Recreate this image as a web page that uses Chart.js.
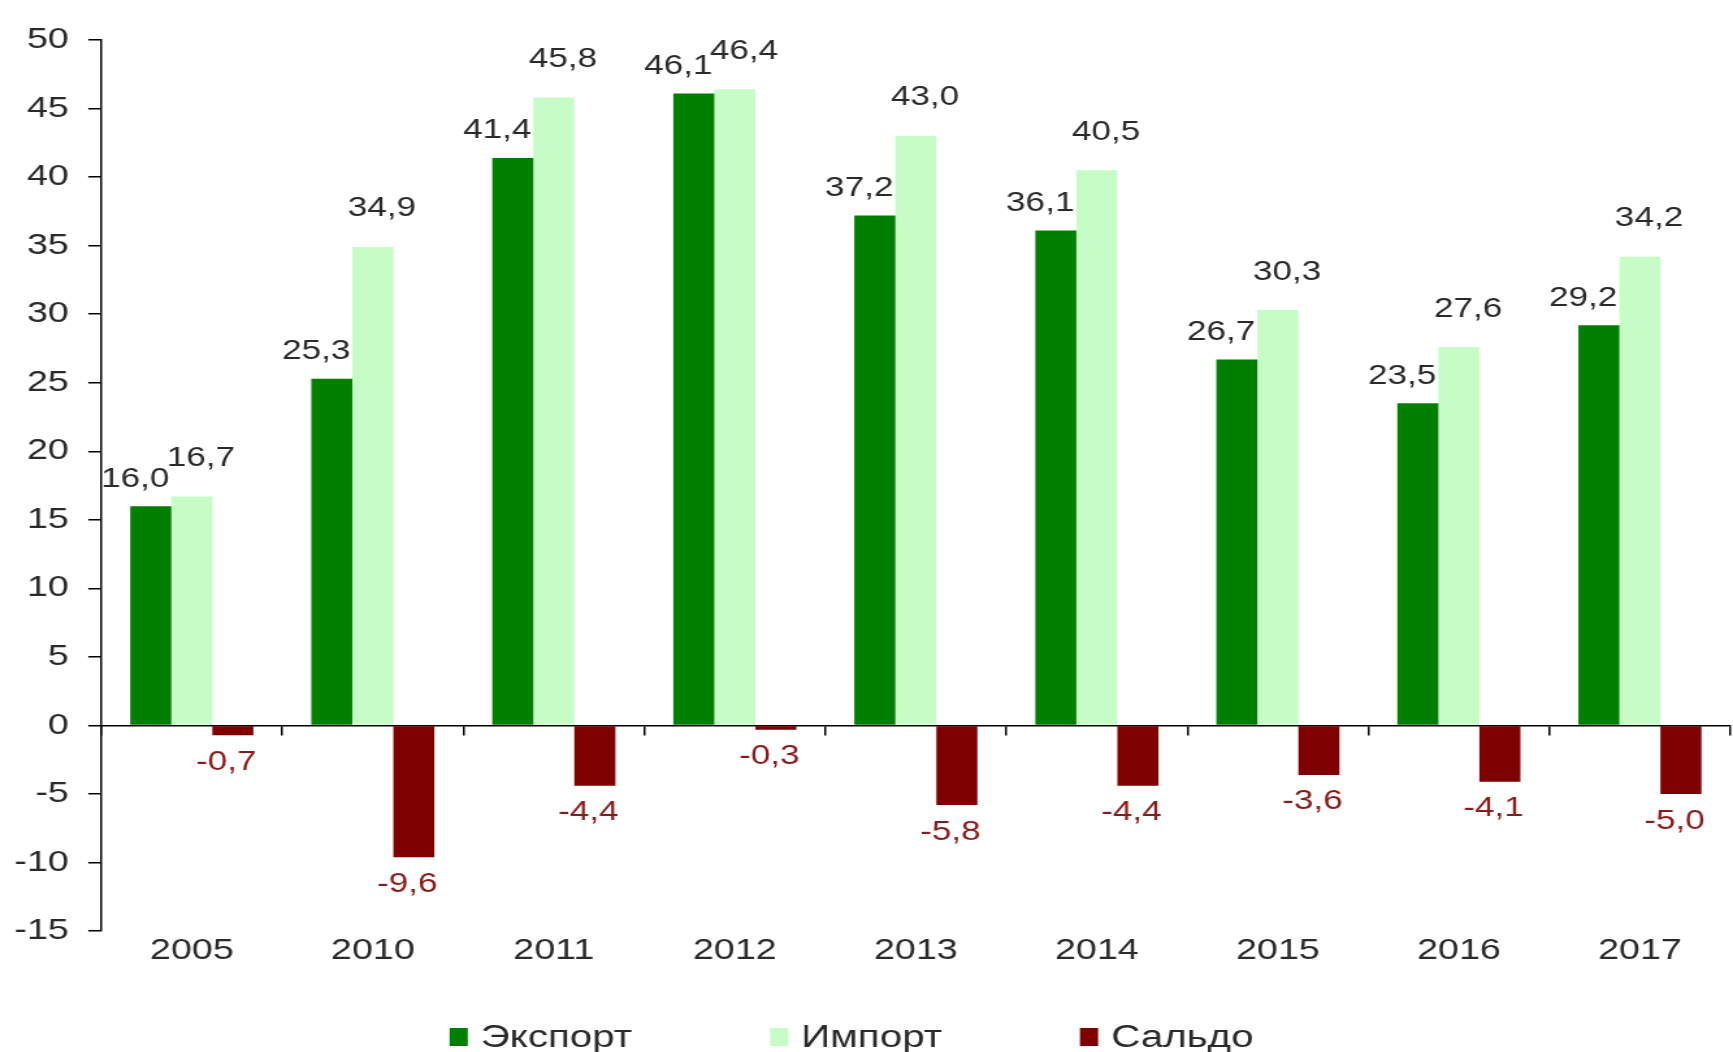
<!DOCTYPE html>
<html>
<head>
<meta charset="utf-8">
<script src="https://cdn.jsdelivr.net/npm/chart.js@4/dist/chart.umd.min.js"></script>
<style>
  html, body { margin: 0; padding: 0; background: #fff; overflow: hidden; }
</style>
</head>
<body>
<!-- the source picture is stretched sideways, so the canvas is drawn narrower and widened by CSS -->
<canvas id="barChart" width="1333" height="1052" style="width:1733px;height:1052px;display:block"></canvas>
<script>
// Data
var years = ['2005', '2010', '2011', '2012', '2013', '2014', '2015', '2016', '2017'];
var exportValues = [16.0, 25.3, 41.4, 46.1, 37.2, 36.1, 26.7, 23.5, 29.2];
var importValues = [16.7, 34.9, 45.8, 46.4, 43.0, 40.5, 30.3, 27.6, 34.2];
var saldoValues = [-0.7, -9.6, -4.4, -0.3, -5.8, -4.4, -3.6, -4.1, -5.0];
var seriesNames = ['Экспорт', 'Импорт', 'Сальдо'];
var seriesColors = ['#007f00', '#c6fcc6', '#7f0000'];

var FONT = "'Liberation Sans', Arial, sans-serif";
var TEXT = '#2a2a2a';

function fmt(v) {
    return v.toFixed(1).replace('.', ',');
}

// Value labels next to every bar
var valueLabels = {
    id: 'valueLabels',
    afterDatasetsDraw: function (chart) {
        var ctx = chart.ctx;
        ctx.save();
        ctx.font = '27px ' + FONT;
        ctx.textAlign = 'center';
        ctx.textBaseline = 'middle';
        chart.data.datasets.forEach(function (ds, i) {
            var meta = chart.getDatasetMeta(i);
            meta.data.forEach(function (bar, j) {
                var v = ds.data[j];
                if (v >= 0) {
                    ctx.fillStyle = TEXT;
                    if (i === 0) {
                        ctx.fillText(fmt(v), bar.x - 12, bar.y - 27);
                    } else {
                        ctx.fillText(fmt(v), bar.x + 7, bar.y - 38);
                    }
                } else {
                    ctx.fillStyle = '#8b1a1a';
                    ctx.fillText(fmt(v), bar.x - 5, bar.y + 27);
                }
            });
        });
        ctx.restore();
    }
};

// Legend drawn under the axis labels (the built-in one puts its item gap above and below too)
var bottomLegend = {
    id: 'bottomLegend',
    afterDraw: function (chart) {
        var ctx = chart.ctx;
        var boxW = 14, boxH = 18, textGap = 10, itemGap = 106;
        var y = 1037;
        ctx.save();
        ctx.font = '31px ' + FONT;
        ctx.textBaseline = 'middle';
        var widths = seriesNames.map(function (n) { return boxW + textGap + ctx.measureText(n).width; });
        var total = widths.reduce(function (a, b) { return a + b; }, 0) + itemGap * (widths.length - 1);
        var x = 655 - total / 2;
        seriesNames.forEach(function (n, i) {
            ctx.fillStyle = seriesColors[i];
            ctx.fillRect(x, y - boxH / 2, boxW, boxH);
            ctx.fillStyle = TEXT;
            ctx.fillText(n, x + boxW + textGap, y + 1);
            x += widths[i] + itemGap;
        });
        ctx.restore();
    }
};

var ctx = document.getElementById('barChart').getContext('2d');
var myBarChart = new Chart(ctx, {
    type: 'bar',
    data: {
        labels: years,
        datasets: [{
            label: seriesNames[0],
            data: exportValues,
            backgroundColor: seriesColors[0]
        }, {
            label: seriesNames[1],
            data: importValues,
            backgroundColor: seriesColors[1]
        }, {
            label: seriesNames[2],
            data: saldoValues,
            backgroundColor: seriesColors[2]
        }]
    },
    options: {
        responsive: false,
        maintainAspectRatio: false,
        animation: false,
        categoryPercentage: 0.68,
        barPercentage: 1.0,
        layout: {
            padding: { left: 11, right: 2, top: 40, bottom: 90 }
        },
        plugins: {
            tooltip: { enabled: false },
            legend: { display: false }
        },
        scales: {
            x: {
                position: { y: 0 },
                grid: {
                    display: true,
                    drawOnChartArea: false,
                    drawTicks: true,
                    tickLength: 9,
                    color: '#000',
                    lineWidth: 1.5
                },
                border: { display: true, color: '#000', width: 1.5 },
                ticks: { display: false }
            },
            x2: {
                type: 'category',
                labels: years,
                position: 'bottom',
                grid: { display: false },
                border: { display: false },
                ticks: {
                    color: TEXT,
                    font: { size: 29, family: FONT },
                    padding: -6
                }
            },
            y: {
                min: -15,
                max: 50,
                ticks: {
                    stepSize: 5,
                    color: TEXT,
                    font: { size: 29, family: FONT },
                    padding: 15
                },
                grid: {
                    drawOnChartArea: false,
                    drawTicks: true,
                    tickLength: 10,
                    color: '#000',
                    lineWidth: 1.5
                },
                border: { display: true, color: '#000', width: 1.5 },
                // Chart.js reserves the tick padding twice; drop the unused part on the left
                afterFit: function (scale) {
                    scale.width -= 15;
                }
            }
        }
    },
    plugins: [valueLabels, bottomLegend]
});
</script>
</body>
</html>
